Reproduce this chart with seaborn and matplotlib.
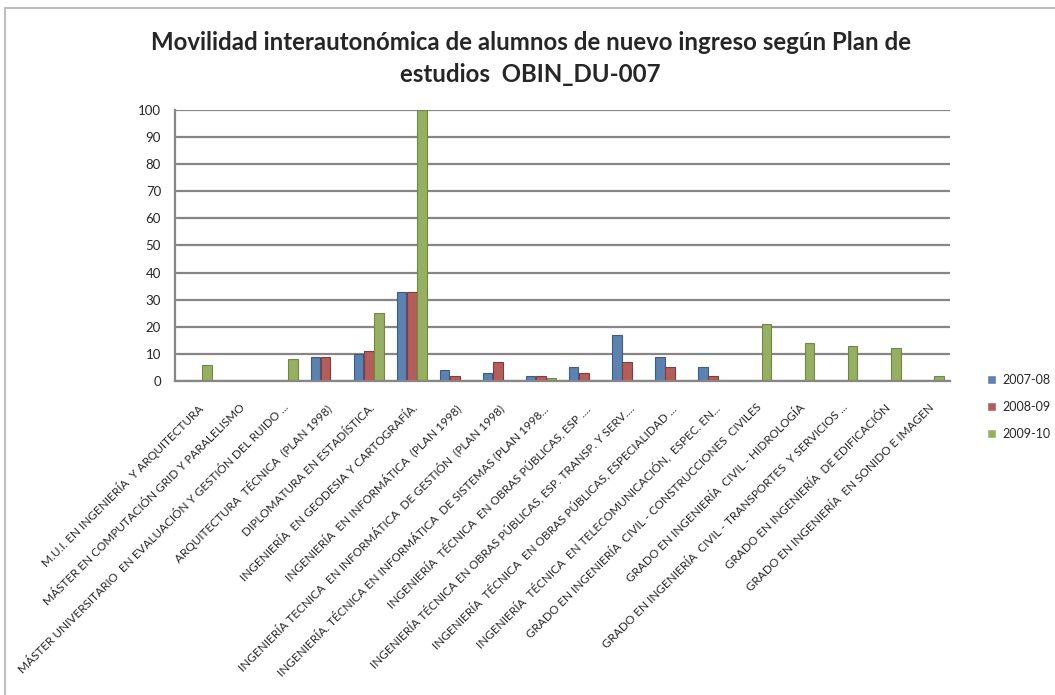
import numpy as np
import pandas as pd
import matplotlib
matplotlib.use("Agg")
import matplotlib.pyplot as plt
import seaborn as sns
from matplotlib.patches import Rectangle

# ----------------------------
# 1. Data
# ----------------------------
categories = [
    "M.U.I. EN INGENIERÍA  Y ARQUITECTURA",
    "MÁSTER EN COMPUTACIÓN GRID Y PARALELISMO",
    "MÁSTER UNIVERSITARIO  EN EVALUACIÓN Y GESTIÓN DEL RUIDO ...",
    "ARQUITECTURA  TÉCNICA  (PLAN 1998)",
    "DIPLOMATURA EN ESTADÍSTICA.",
    "INGENIERÍA  EN GEODESIA Y CARTOGRAFÍA.",
    "INGENIERÍA  EN INFORMÁTICA  (PLAN 1998)",
    "INGENIERÍA TECNICA  EN INFORMÁTICA  DE GESTIÓN  (PLAN 1998)",
    "INGENIERÍA. TÉCNICA EN INFORMÁTICA  DE SISTEMAS (PLAN 1998...",
    "INGENIERÍA  TÉCNICA  EN OBRAS PÚBLICAS, ESP ....",
    "INGENIERÍA TÉCNICA EN OBRAS PÚBLICAS, ESP. TRANSP. Y SERV....",
    "INGENIERÍA  TÉCNICA  EN OBRAS PÚBLICAS, ESPECIALIDAD ...",
    "INGENIERÍA  TÉCNICA  EN TELECOMUNICACIÓN,  ESPEC. EN...",
    "GRADO EN INGENIERÍA  CIVIL - CONSTRUCCIONES  CIVILES",
    "GRADO EN INGENIERÍA  CIVIL - HIDROLOGÍA",
    "GRADO EN INGENIERÍA  CIVIL - TRANSPORTES  Y SERVICIOS ...",
    "GRADO EN INGENIERÍA  DE EDIFICACIÓN",
    "GRADO EN INGENIERÍA  EN SONIDO E IMAGEN",
]
years = ["2007-08", "2008-09", "2009-10"]
v_2007 = [np.nan, np.nan, np.nan, 9, 10, 33, 4, 3, 2, 5, 17, 9, 5, 0, 0, 0, 0, 0]
v_2008 = [np.nan, np.nan, np.nan, 9, 11, 33, 2, 7, 2, 3, 7, 5, 2, 0, 0, 0, 0, 0]
v_2009 = [6, 0, 8, 0, 25, 100, 0, 0, 1, 0, 0, 0, 0, 21, 14, 13, 12, 2]
colors = ["#4F81BD", "#C0504D", "#9BBB59"]
edges = ["#385D8A", "#8C3836", "#71893F"]

df = pd.DataFrame({"plan": categories, "2007-08": v_2007,
                   "2008-09": v_2008, "2009-10": v_2009})
df = df.melt(id_vars="plan", var_name="curso", value_name="alumnos")

# ----------------------------
# 2. Figure
# ----------------------------
sns.set_style("white")
plt.rcParams["font.family"] = ["Lato", "DejaVu Sans"]

fig = plt.figure(figsize=(10.55, 6.95), dpi=100)
# chart-area border (only top and left edges are inside the picture)
fig.patches.append(Rectangle((5 / 1055, -0.1), 1.2, 1.1 - 8 / 695, transform=fig.transFigure,
                             fill=False, edgecolor="#BFBFBF", linewidth=1.5))
ax = fig.add_axes([175 / 1055, 1 - 381 / 695, (950 - 175) / 1055, (381 - 110) / 695])

sns.barplot(data=df, x="plan", y="alumnos", hue="curso", hue_order=years,
            palette=colors, width=0.72, gap=0.08, ax=ax, legend=True)
for cont, ec in zip(ax.containers, edges):
    for bar in cont:
        bar.set_edgecolor(ec)
        bar.set_linewidth(0.8)

ax.set_ylim(0, 100)
ax.set_xlim(-0.5, len(categories) - 0.5)
ax.set_yticks(range(0, 101, 10))
ax.yaxis.grid(True, color="#868686", linewidth=1.6)
ax.set_axisbelow(True)
ax.tick_params(axis="y", labelsize=9.5, pad=10, length=0)
ax.tick_params(axis="x", labelsize=8.5, pad=15, length=0)
ax.set_xlabel("")
ax.set_ylabel("")
for lab in ax.get_xticklabels():
    lab.set_rotation(45)
    lab.set_ha("right")
    lab.set_rotation_mode("anchor")
for side in ["top", "right"]:
    ax.spines[side].set_visible(False)
ax.spines["left"].set_color("#868686")
ax.spines["bottom"].set_color("#868686")
ax.spines["left"].set_linewidth(1.6)
ax.spines["bottom"].set_linewidth(1.6)

ax.legend(title=None, frameon=False, loc="center left",
          bbox_to_anchor=(976 / 1055, 1 - 407 / 695), bbox_transform=fig.transFigure,
          fontsize=9, handlelength=0.7, handleheight=0.7, labelspacing=1.2,
          handletextpad=0.5)

fig.text(0.503, 1 - 42 / 695, "Movilidad interautonómica de alumnos de nuevo ingreso según Plan de",
         ha="center", va="center", fontsize=17.3, fontweight="bold")
fig.text(0.503, 1 - 74 / 695, "estudios  OBIN_DU-007",
         ha="center", va="center", fontsize=17.3, fontweight="bold")

fig.savefig("out.png", dpi=100)
